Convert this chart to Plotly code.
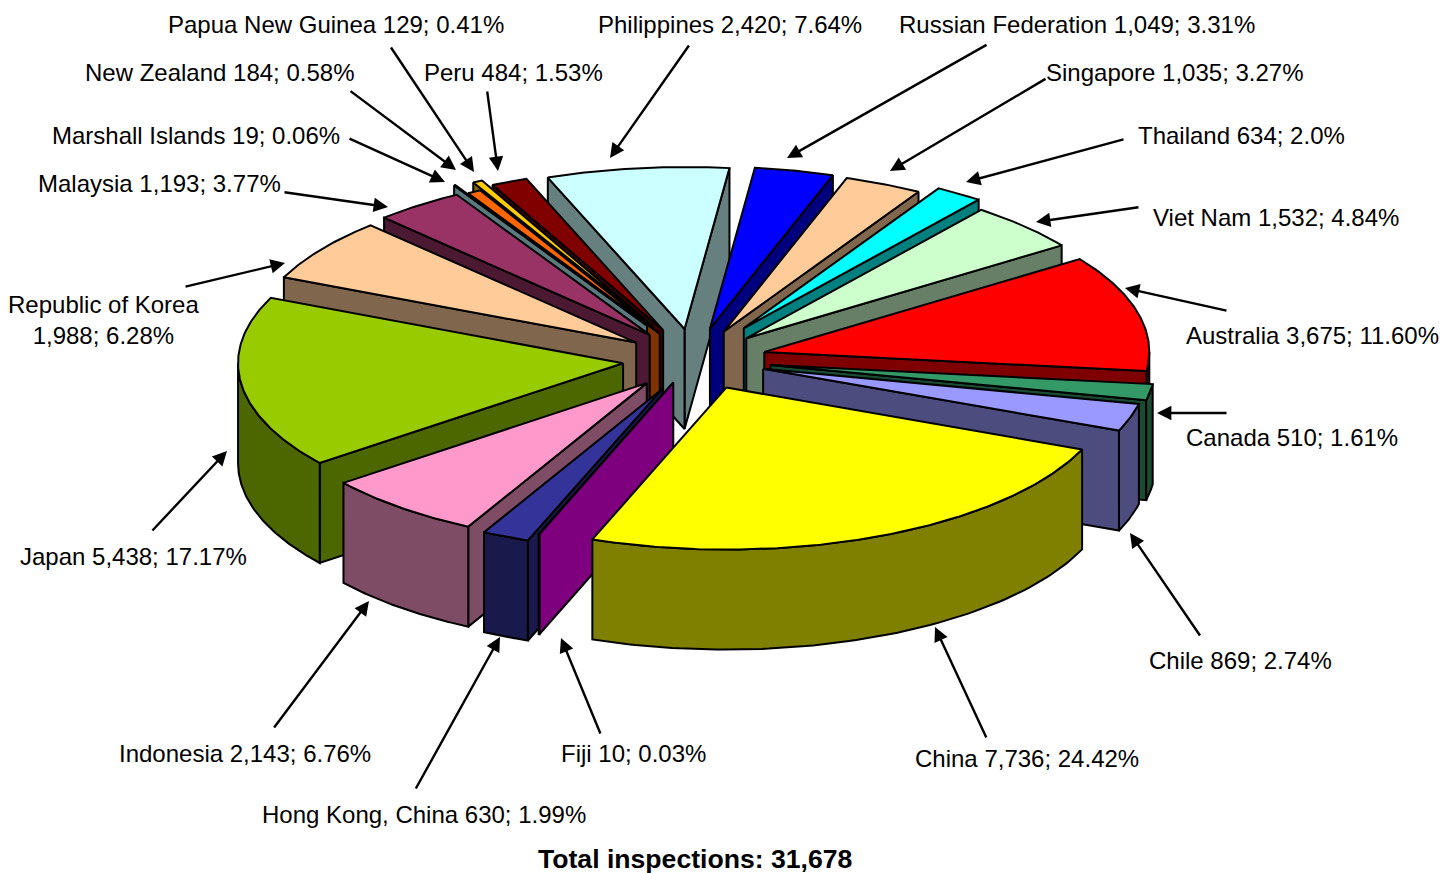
import numpy as np
import plotly.graph_objects as go

countries = ["Australia","Canada","Chile","China","Fiji","Hong Kong, China","Indonesia","Japan",
             "Republic of Korea","Malaysia","Marshall Islands","New Zealand","Papua New Guinea","Peru",
             "Philippines","Russian Federation","Singapore","Thailand","Viet Nam"]
inspections = [3675,510,869,7736,10,630,2143,5438,1988,1193,19,184,129,484,2420,1049,1035,634,1532]
shares = ["11.60%","1.61%","2.74%","24.42%","0.03%","1.99%","6.76%","17.17%","6.28%","3.77%",
          "0.06%","0.58%","0.41%","1.53%","7.64%","3.31%","3.27%","2.0%","4.84%"]
colors = ["#FF0000","#339966","#9999FF","#FFFF00","#FF00FF","#333399","#FF99CC","#99CC00","#FFCC99","#993366",
          "#B4F4FF","#FF6600","#FFCC00","#800000","#CCFFFF","#0000FF","#FFCC99","#00FFFF","#CCFFCC"]
total_label = "Total inspections: 31,678"

# pie geometry on a pixel-like axis
CX, CY, RX, RY, DEPTH, START = 693.5, 359.5, 385.0, 162.0, 100.0, 55.0
K = RY / RX
explode = [73,78,73,78,58,76,73,71,70,73,93,70,90,76,73,75,73,90,73]
nudge_x = {3: 1.5}
nudge_y = {3: -2.0}

# label box centres and arrow tail/head, same order as countries
label_xy = [(1312,335),(1292,437),(1240,660),(1027,758),(633,753),(424,814),(245,753),(133,556),
            (103,320),(159,183),(196,135),(220,72),(336,24),(513,72),(730,24),(1077,24),(1175,72),(1241,135),(1276,217)]
arrow_tail = [(1228,311),(1228,413),(1201,637),(987,739),(601,735),(415,790),(273,729),(151,532),
              (184,287),(283,192),(348,138),(349,90),(390,46),(487,90),(690,44),(988,44),(1047,78),(1125,139),(1140,207)]
arrow_head = [(1125,288),(1157,413),(1130,533),(935,627),(561,638),(500,637),(369,601),(227,451),
              (285,263),(388,207),(445,182),(456,170),(474,172),(498,171),(610,158),(787,158),(890,171),(966,182),(1036,222)]

values = np.array(inspections, float)
spans = values / values.sum() * 360
starts = START + np.concatenate([[0], np.cumsum(spans)[:-1]])


def half(c):
    r, g, b = int(c[1:3], 16), int(c[3:5], 16), int(c[5:7], 16)
    return f"#{r//2:02x}{g//2:02x}{b//2:02x}"


def pts(ax, ay, theta, r):
    t = np.radians(theta)
    return ax + r * np.sin(t), ay - K * r * np.cos(t)


fig = go.Figure()


def poly(xs, ys, fill):
    fig.add_trace(go.Scatter(x=list(xs) + [xs[0]], y=list(ys) + [ys[0]], mode="lines", fill="toself",
                             fillcolor=fill, line=dict(color="black", width=2),
                             hoverinfo="skip", showlegend=False))


def paint_key(i):
    a, b = starts[i], starts[i] + spans[i]
    if a <= 180 <= b:
        return 1e6
    return -abs(((a + b) / 2) % 360 - 180)


for i in sorted(range(len(values)), key=paint_key):
    a, b = starts[i], starts[i] + spans[i]
    mid = (a + b) / 2
    ax, ay = pts(CX, CY, mid, explode[i])
    ax += nudge_x.get(i, 0)
    ay += nudge_y.get(i, 0)
    side = half(colors[i])
    # radial walls
    if np.sin(np.radians(b)) > 0:
        ox, oy = pts(ax, ay, b, RX)
        poly([ax, ox, ox, ax], [ay, oy, oy + DEPTH, ay + DEPTH], side)
    if np.sin(np.radians(a)) < 0:
        ox, oy = pts(ax, ay, a, RX)
        poly([ax, ox, ox, ax], [ay, oy, oy + DEPTH, ay + DEPTH], side)
    # outer curved wall (front half only)
    lo, hi = max(a, 90), min(b, 270)
    if hi > lo:
        th = np.linspace(lo, hi, 80)
        ox, oy = pts(ax, ay, th, RX)
        poly(np.r_[ox, ox[::-1]], np.r_[oy, oy[::-1] + DEPTH], side)
    # top face
    th = np.linspace(a, b, max(int(spans[i]) * 2, 3))
    ox, oy = pts(ax, ay, th, RX)
    poly(np.r_[ax, ox], np.r_[ay, oy], colors[i])

FONT = dict(family="Liberation Sans, Arial, sans-serif", size=24, color="black")
for i, name in enumerate(countries):
    sep = "<br>" if name == "Republic of Korea" else " "
    txt = f"{name}{sep}{inspections[i]:,}; {shares[i]}"
    fig.add_annotation(x=label_xy[i][0], y=label_xy[i][1], text=txt, showarrow=False, font=FONT,
                       xref="x", yref="y", xanchor="center", yanchor="middle", align="center")
    fig.add_annotation(x=arrow_head[i][0], y=arrow_head[i][1], ax=arrow_tail[i][0], ay=arrow_tail[i][1],
                       xref="x", yref="y", axref="x", ayref="y", text="", showarrow=True,
                       arrowhead=2, arrowsize=1.2, arrowwidth=2.4, arrowcolor="black", standoff=0)
fig.add_annotation(x=695, y=859, text=f"<b>{total_label}</b>", showarrow=False,
                   font=dict(family="Liberation Sans, Arial, sans-serif", size=26.6, color="black"),
                   xref="x", yref="y")

fig.update_layout(width=1444, height=873, margin=dict(l=0, r=0, t=0, b=0), showlegend=False,
                  paper_bgcolor="white", plot_bgcolor="white",
                  xaxis=dict(range=[0, 1444], visible=False, fixedrange=True),
                  yaxis=dict(range=[873, 0], visible=False, fixedrange=True))
fig.write_html("out.html", post_script="document.body.style.margin='0';document.body.style.overflow='hidden';",
               config=dict(displayModeBar=False))
